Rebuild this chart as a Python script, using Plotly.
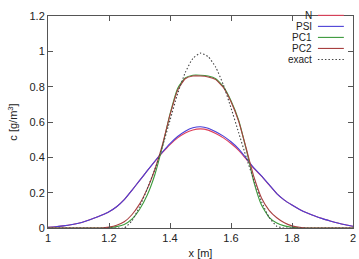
import plotly.graph_objects as go

x = [1.000, 1.025, 1.050, 1.075, 1.100, 1.125, 1.150, 1.175, 1.200, 1.225,
     1.250, 1.275, 1.300, 1.325, 1.350, 1.375, 1.400, 1.425, 1.450, 1.475,
     1.500, 1.525, 1.550, 1.575, 1.600, 1.625, 1.650, 1.675, 1.700, 1.725,
     1.750, 1.775, 1.800, 1.825, 1.850, 1.875, 1.900, 1.925, 1.950, 1.975, 2.000]

psi = [0.004, 0.007, 0.012, 0.018, 0.027, 0.040, 0.055, 0.072, 0.092, 0.120,
       0.160, 0.213, 0.268, 0.323, 0.378, 0.430, 0.478, 0.518, 0.548, 0.567,
       0.573, 0.565, 0.545, 0.520, 0.488, 0.448, 0.395, 0.340, 0.295, 0.245,
       0.195, 0.158, 0.130, 0.105, 0.085, 0.068, 0.053, 0.040, 0.028, 0.018, 0.010]

n = [0.004, 0.007, 0.012, 0.018, 0.027, 0.040, 0.055, 0.072, 0.092, 0.120,
     0.160, 0.213, 0.268, 0.323, 0.376, 0.426, 0.472, 0.510, 0.538, 0.555,
     0.561, 0.554, 0.535, 0.510, 0.478, 0.440, 0.390, 0.337, 0.293, 0.244,
     0.195, 0.158, 0.130, 0.105, 0.085, 0.068, 0.053, 0.040, 0.028, 0.018, 0.010]

pc1 = [0.0, 0.0, 0.0, 0.0, 0.0, 0.0, 0.0, 0.0, 0.002, 0.008,
       0.020, 0.050, 0.105, 0.185, 0.300, 0.460, 0.645, 0.790, 0.850, 0.865,
       0.865, 0.860, 0.845, 0.800, 0.720, 0.610, 0.445, 0.260, 0.130, 0.060,
       0.028, 0.012, 0.004, 0.001, 0.0, 0.0, 0.0, 0.0, 0.0, 0.0, 0.0]

pc2 = [0.0, 0.0, 0.0, 0.0, 0.0, 0.0, 0.0, 0.0, 0.005, 0.015,
       0.035, 0.075, 0.135, 0.220, 0.330, 0.470, 0.640, 0.780, 0.845, 0.860,
       0.860, 0.855, 0.840, 0.795, 0.715, 0.605, 0.450, 0.290, 0.170, 0.100,
       0.058, 0.030, 0.012, 0.004, 0.0, 0.0, 0.0, 0.0, 0.0, 0.0, 0.0]

exact = [0.0, 0.0, 0.0, 0.0, 0.0, 0.0, 0.0, 0.0, 0.0, 0.0,
         0.0, 0.040, 0.120, 0.220, 0.330, 0.460, 0.610, 0.760, 0.880, 0.960,
         0.990, 0.970, 0.910, 0.810, 0.680, 0.540, 0.400, 0.270, 0.150, 0.060,
         0.010, 0.0, 0.0, 0.0, 0.0, 0.0, 0.0, 0.0, 0.0, 0.0, 0.0]

names = ["N", "PSI", "PC1", "PC2", "exact"]
series = [n, psi, pc1, pc2, exact]
colors = ["#e0405a", "#4a3fd6", "#3c9a3c", "#a84040", "#444444"]
dashes = ["solid", "solid", "solid", "solid", "1.5px,2px"]

x_ticks = [1, 1.2, 1.4, 1.6, 1.8, 2]
x_ticklabels = ["1", "1.2", "1.4", "1.6", "1.8", "2"]
y_ticks = [0, 0.2, 0.4, 0.6, 0.8, 1, 1.2]
y_ticklabels = ["0", "0.2", "0.4", "0.6", "0.8", "1", "1.2"]

fig = go.Figure()
for name, ys, col, d in zip(names, series, colors, dashes):
    fig.add_trace(go.Scatter(x=x, y=ys, mode="lines", name=name,
                             line=dict(color=col, width=1.1, dash=d, shape="spline", smoothing=0.5),
                             showlegend=False))

font = dict(family="Liberation Sans, Arial, sans-serif", size=11, color="#222222")
key_font = dict(family="Liberation Sans, Arial, sans-serif", size=10, color="#222222")

# gnuplot-style key: text right-aligned, sample line to its right
for i, (name, col, d) in enumerate(zip(names, colors, dashes)):
    yy = 1.003 - i * 0.052
    fig.add_annotation(xref="paper", yref="paper", x=0.868, y=yy, text=name,
                       showarrow=False, xanchor="right", yanchor="middle", font=key_font,
                       borderpad=0)
    fig.add_shape(type="line", xref="paper", yref="paper", x0=0.885, x1=0.97, y0=yy, y1=yy,
                  line=dict(color=col, width=1.1, dash=d))

axis_common = dict(showgrid=False, zeroline=False, showline=True, linecolor="#555555",
                   linewidth=1, mirror="allticks", ticks="inside", ticklen=5,
                   tickcolor="#555555", tickfont=font, automargin=False)

fig.update_layout(
    width=359, height=259,
    margin=dict(l=48, r=6, t=16, b=31),
    paper_bgcolor="white", plot_bgcolor="white",
    xaxis=dict(range=[1, 2], tickvals=x_ticks, ticktext=x_ticklabels,
               title=dict(text="x [m]", font=font, standoff=6), **axis_common),
    yaxis=dict(range=[0, 1.2], tickvals=y_ticks, ticktext=y_ticklabels,
               title=dict(text="c [g/m<sup>3</sup>]", font=font, standoff=9), **axis_common),
)

fig.write_html("out.html")
